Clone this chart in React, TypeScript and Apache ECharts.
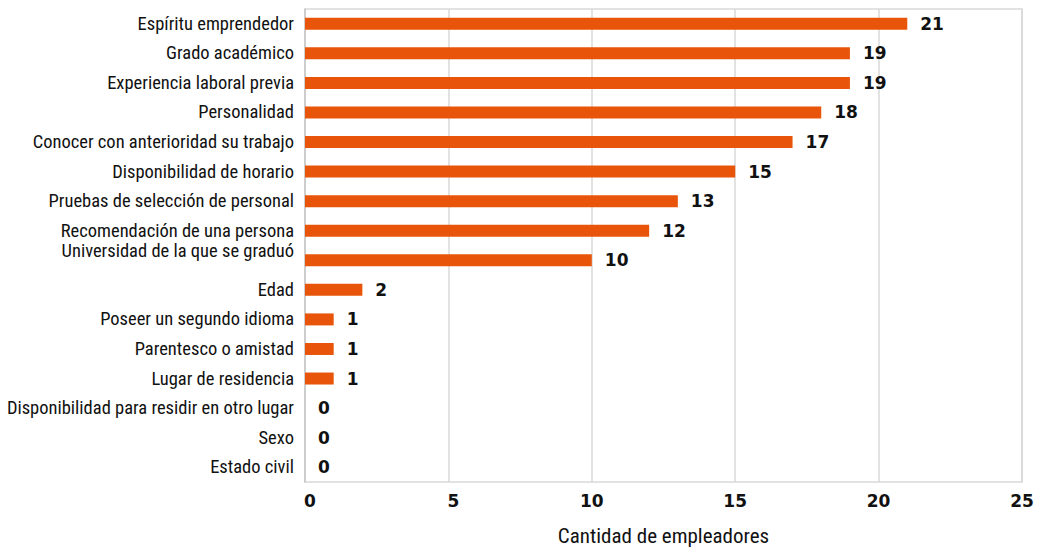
import React, { useEffect, useRef } from "react";
import * as echarts from "echarts";

const categories = [
  "Espíritu emprendedor",
  "Grado académico",
  "Experiencia laboral previa",
  "Personalidad",
  "Conocer con anterioridad su trabajo",
  "Disponibilidad de horario",
  "Pruebas de selección de personal",
  "Recomendación de una persona",
  "Universidad de la que se graduó\n ",
  "Edad",
  "Poseer un segundo idioma",
  "Parentesco o amistad",
  "Lugar de residencia",
  "Disponibilidad para residir en otro lugar",
  "Sexo",
  "Estado civil",
];
const values = [21, 19, 19, 18, 17, 15, 13, 12, 10, 2, 1, 1, 1, 0, 0, 0];
const xTicks = { min: 0, max: 25, interval: 5 };
const axisTitle = "Cantidad de empleadores";

const narrow = "'Roboto Condensed', 'DejaVu Sans Condensed', sans-serif";
const bold = "'DejaVu Sans', 'Open Sans', sans-serif";

export default function App() {
  const ref = useRef<HTMLDivElement>(null);
  useEffect(() => {
    if (!ref.current) return;
    const chart = echarts.init(ref.current, null, { renderer: "svg" });
    chart.setOption({
      animation: false,
      grid: {
        left: 305,
        right: 17,
        top: 9,
        bottom: 68,
        outerBoundsMode: "none",
        containLabel: false,
        show: true,
        borderColor: "#d9d9d9",
        borderWidth: 1.5,
      },
      xAxis: {
        type: "value",
        min: xTicks.min,
        max: xTicks.max,
        interval: xTicks.interval,
        name: axisTitle,
        nameLocation: "middle",
        nameGap: 43,
        nameTextStyle: { fontFamily: narrow, fontSize: 21, color: "#111" },
        axisLine: { show: false },
        axisTick: { show: false },
        axisLabel: {
          fontFamily: bold,
          fontWeight: "bold",
          fontSize: 17,
          color: "#111",
          margin: 10,
          formatter: (v: number) => (v < 10 ? `{s|${v}}` : `${v}`),
          rich: {
            s: {
              fontFamily: bold,
              fontWeight: "bold",
              fontSize: 17,
              color: "#111",
              padding: [0, 0, 0, 10],
            },
          },
        },
        splitLine: { lineStyle: { color: "#d9d9d9", width: 1.5 } },
      },
      yAxis: {
        type: "category",
        inverse: true,
        data: categories,
        axisLine: { show: true, lineStyle: { color: "#c8c8c8", width: 1.5 } },
        axisTick: { show: false },
        axisLabel: {
          fontFamily: narrow,
          fontSize: 18.5,
          color: "#111",
          margin: 11,
          lineHeight: 18,
        },
      },
      series: [
        {
          type: "bar",
          data: values,
          barWidth: 12,
          itemStyle: { color: "#E8550A" },
          label: {
            show: true,
            position: "right",
            distance: 13,
            fontFamily: bold,
            fontWeight: "bold",
            fontSize: 17,
            color: "#111",
          },
        },
      ],
    });
    return () => chart.dispose();
  }, []);
  return <div ref={ref} style={{ width: 1039, height: 550, position: "absolute", left: 0, top: 0 }} />;
}
